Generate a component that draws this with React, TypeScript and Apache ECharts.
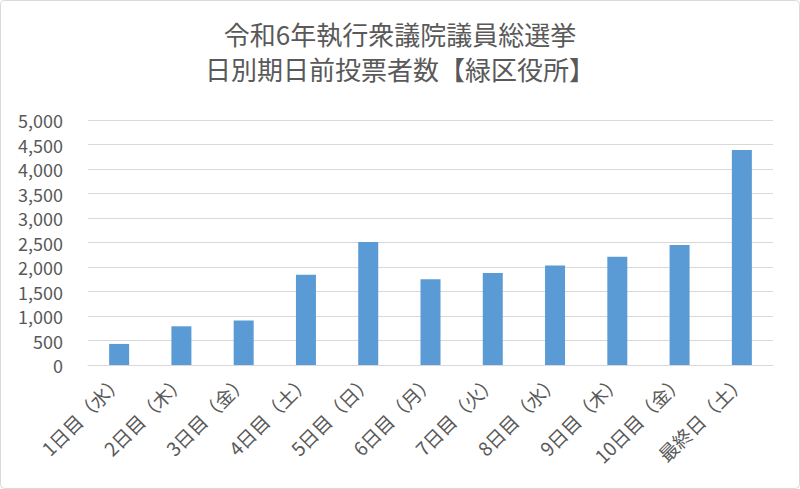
import React, { useEffect, useRef } from 'react';
import * as echarts from 'echarts';

// 日別期日前投票者数（緑区役所）
const days = [
  '1日目（水）', '2日目（木）', '3日目（金）', '4日目（土）', '5日目（日）',
  '6日目（月）', '7日目（火）', '8日目（水）', '9日目（木）', '10日目（金）', '最終日（土）'
];
const voters = [430, 790, 910, 1840, 2510, 1750, 1880, 2030, 2210, 2450, 4390];
const titleLines = ['令和6年執行衆議院議員総選挙', '日別期日前投票者数【緑区役所】'];

const FONT = '"Noto Sans CJK JP", "Noto Sans", sans-serif';

const App: React.FC = () => {
  const chartRef = useRef<HTMLDivElement>(null);

  useEffect(() => {
    if (!chartRef.current) return;
    const chart = echarts.init(chartRef.current, undefined, { renderer: 'svg' });

    chart.setOption({
      animation: false,
      backgroundColor: '#ffffff',
      title: {
        text: titleLines.join('\n'),
        left: 'center',
        top: 11,
        textStyle: {
          color: '#595959',
          fontSize: 26,
          fontWeight: 'normal',
          lineHeight: 35,
          fontFamily: FONT
        }
      },
      graphic: [
        {
          type: 'rect',
          shape: { x: 0.5, y: 0.5, width: 799, height: 488, r: 4 },
          style: { fill: 'none', stroke: '#d9d9d9', lineWidth: 1 },
          silent: true
        }
      ],
      grid: {
        left: 88,
        right: 27,
        top: 120,
        bottom: 124,
        containLabel: false
      },
      xAxis: {
        type: 'category',
        data: days,
        axisLine: { lineStyle: { color: '#d9d9d9', width: 1 } },
        axisTick: { show: false },
        axisLabel: {
          rotate: 45,
          interval: 0,
          margin: 12,
          color: '#595959',
          fontSize: 19,
          fontFamily: FONT
        }
      },
      yAxis: {
        type: 'value',
        min: 0,
        max: 5000,
        interval: 500,
        axisLine: { show: false },
        axisTick: { show: false },
        splitLine: { lineStyle: { color: '#d9d9d9', width: 1 } },
        axisLabel: {
          margin: 25,
          color: '#595959',
          fontSize: 18,
          fontFamily: FONT,
          formatter: (v: number) => v.toLocaleString('en-US')
        }
      },
      series: [
        {
          type: 'bar',
          data: voters,
          barWidth: 20,
          itemStyle: { color: '#5b9bd5' }
        }
      ]
    });

    return () => {
      chart.dispose();
    };
  }, []);

  return (
    <div
      ref={chartRef}
      style={{ position: 'absolute', left: 0, top: 0, width: '800px', height: '489px' }}
    />
  );
};

export default App;
